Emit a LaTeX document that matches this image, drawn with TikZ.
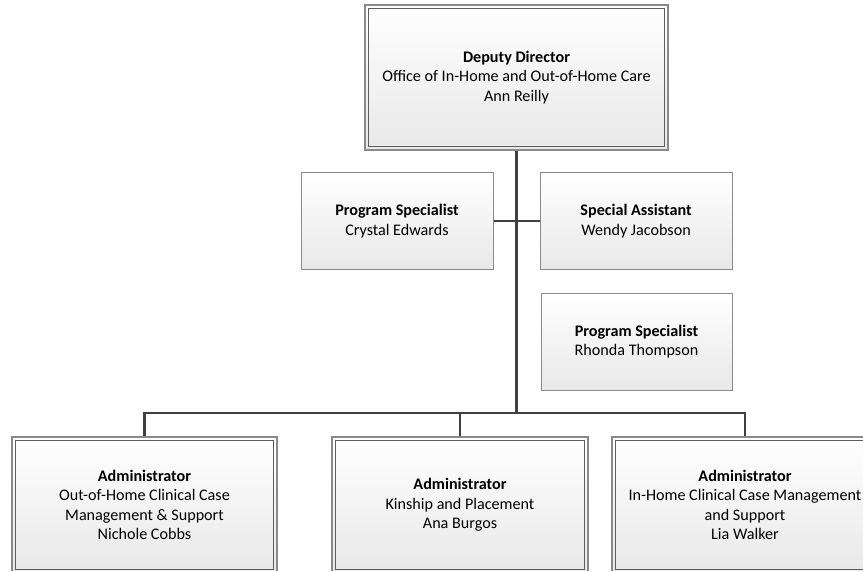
\documentclass[tikz,border=0pt]{standalone}
\usepackage{fontspec}
\setmainfont{Carlito}
\definecolor{framegray}{HTML}{8A8A8A}
\definecolor{innergray}{HTML}{5E5E5E}
\definecolor{boxbottom}{HTML}{E8E8E8}
\definecolor{linkgray}{HTML}{404040}
\begin{document}
\begin{tikzpicture}[x=1bp,y=-1bp,
  card/.style={rectangle, draw=framegray, line width=1bp,
    top color=white, bottom color=boxbottom, align=center, inner sep=0pt,
    font=\fontsize{16.2}{19.5}\selectfont},
  smallcard/.style={card, minimum width=192bp, minimum height=96bp},
  bigcard/.style={card, line width=1.3bp, minimum width=265bp, minimum height=136bp},
  innerframe/.style={draw=innergray, line width=1bp},
  link/.style={draw=linkgray, line width=2.5bp},
  trunk/.style={draw=linkgray, line width=3bp}]
\useasboundingbox (0,0) rectangle (863,571);

% top of the chart
\node[card, line width=1.3bp, minimum width=303bp, minimum height=145bp] (dd) at (516.5,77.5)
  {\textbf{Deputy Director}\\Office of In-Home and Out-of-Home Care\\Ann Reilly};

% staff beside the trunk
\node[smallcard] (ps1) at (397,221) {\textbf{Program Specialist}\\Crystal Edwards};
\node[smallcard] (sa) at (636,221) {\textbf{Special Assistant}\\Wendy Jacobson};
\node[smallcard, minimum width=191bp, minimum height=97bp] (ps2) at (636.5,341.5)
  {\textbf{Program Specialist}\\Rhonda Thompson};

% administrators
\node[bigcard] (a1) at (144.5,505) {\textbf{Administrator}\\Out-of-Home Clinical Case\\Management \& Support\\Nichole Cobbs};
\node[bigcard, minimum width=256bp] (a2) at (460,505) {\textbf{Administrator}\\Kinship and Placement\\Ana Burgos};
\node[bigcard, minimum width=266bp] (a3) at (745,505) {\textbf{Administrator}\\In-Home Clinical Case Management\\and Support\\Lia Walker};

% inner rules of the double frames
\foreach \n in {dd,a1,a2,a3}
  \draw[innerframe] ([shift={(4.5,4.5)}]\n.north west) rectangle ([shift={(-4.5,-4.5)}]\n.south east);

% connectors
\coordinate (bar) at (516,413);
\draw[trunk] (dd.south -| bar) -- (bar);
\draw[link] (ps1.east) -- (sa.west);
\draw[link] (a1.north) |- (bar) -| (a3.north);
\draw[link] (a2.north) -- (a2.north |- bar);
\end{tikzpicture}
\end{document}
